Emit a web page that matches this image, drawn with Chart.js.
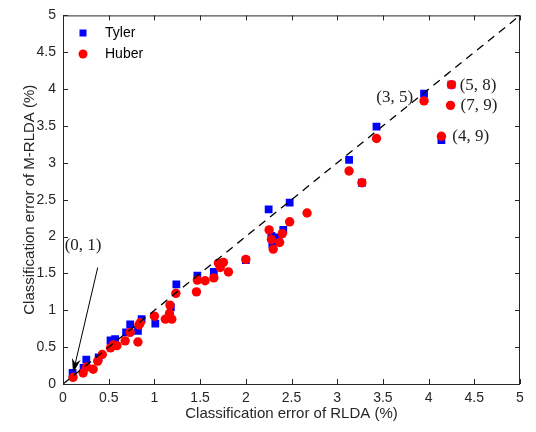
<!DOCTYPE html>
<html>
<head>
<meta charset="utf-8">
<script src="https://cdn.jsdelivr.net/npm/chart.js@4"></script>
<style>
  html, body { margin: 0; padding: 0; background: #fff; }
  #wrap { width: 536px; height: 432px; }
</style>
</head>
<body>
<div id="wrap"><canvas id="myChart" width="536" height="432"></canvas></div>
<script>
// data (classification error, %)
const tylerX = [0.105, 0.225, 0.255, 0.39, 0.52, 0.57, 0.69, 0.735, 0.82, 0.86, 1.01, 1.18, 1.24, 1.47, 1.65, 2.0, 2.25, 2.28, 2.29, 2.36, 2.41, 2.48, 3.13, 3.27, 3.43, 3.95, 4.14, 4.25];
const tylerY = [0.15, 0.22, 0.33, 0.36, 0.59, 0.61, 0.70, 0.81, 0.72, 0.88, 0.82, 1.04, 1.35, 1.47, 1.52, 1.68, 2.37, 2.01, 1.90, 1.99, 2.09, 2.46, 3.04, 2.73, 3.49, 3.94, 3.31, 4.06];

const huberX = [0.11, 0.22, 0.26, 0.33, 0.38, 0.43, 0.52, 0.55, 0.59, 0.68, 0.735, 0.82, 0.83, 0.845, 1.0, 1.12, 1.165, 1.17, 1.19, 1.235, 1.46, 1.47, 1.555, 1.65, 1.70, 1.72, 1.755, 1.81, 2.0, 2.255, 2.28, 2.30, 2.37, 2.40, 2.48, 2.67, 3.13, 3.27, 3.43, 3.95, 4.14, 4.24, 4.25];
const huberY = [0.09, 0.15, 0.23, 0.20, 0.31, 0.40, 0.49, 0.53, 0.52, 0.585, 0.70, 0.57, 0.80, 0.83, 0.92, 0.88, 0.955, 1.07, 0.88, 1.23, 1.25, 1.41, 1.40, 1.44, 1.64, 1.58, 1.65, 1.52, 1.69, 2.09, 1.96, 1.83, 1.92, 2.04, 2.20, 2.32, 2.89, 2.73, 3.33, 3.84, 3.36, 3.78, 4.06];

const tickVals = [0, 0.5, 1, 1.5, 2, 2.5, 3, 3.5, 4, 4.5, 5];

// text labels on the plot, in data units
const noteText = ['(3, 5)', '(5, 8)', '(7, 9)', '(4, 9)', '(0, 1)'];
const noteX = [3.63, 4.34, 4.35, 4.26, 0.22];
const noteY = [3.89, 4.05, 3.78, 3.36, 1.88];
const noteAlign = ['center', 'left', 'left', 'left', 'center'];
// arrow from the (0,1) label down to the point
const arrowFrom = [0.38, 1.58];
const arrowTo = [0.11, 0.15];

const ink = '#262626';

function toPts(xs, ys) {
    return xs.map((x, i) => ({ x: x, y: ys[i] }));
}

// box, inward ticks, legend, notes
const extras = {
    id: 'extras',
    afterDraw(chart) {
        const ctx = chart.ctx;
        const a = chart.chartArea;
        const sx = chart.scales.x, sy = chart.scales.y;
        ctx.save();
        ctx.strokeStyle = ink;
        ctx.lineWidth = 1;
        ctx.strokeRect(a.left + 0.5, a.top + 0.5, a.right - a.left - 1, a.bottom - a.top);

        ctx.beginPath();
        tickVals.forEach(v => {
            const px = Math.round(sx.getPixelForValue(v)) + 0.5;
            ctx.moveTo(px, a.bottom); ctx.lineTo(px, a.bottom - 5);
            ctx.moveTo(px, a.top); ctx.lineTo(px, a.top + 5);
            const py = Math.round(sy.getPixelForValue(v)) + 0.5;
            ctx.moveTo(a.left, py); ctx.lineTo(a.left + 5, py);
            ctx.moveTo(a.right, py); ctx.lineTo(a.right - 5, py);
        });
        ctx.stroke();

        // legend
        ctx.font = '14px "Liberation Sans", Arial, sans-serif';
        ctx.textBaseline = 'middle';
        ctx.textAlign = 'left';
        ctx.fillStyle = 'rgb(0,0,255)';
        ctx.fillRect(a.left + 20 - 3.5, 33 - 3.5, 7, 7);
        ctx.fillStyle = 'rgb(255,0,0)';
        ctx.beginPath();
        ctx.arc(a.left + 20, 54, 4.5, 0, Math.PI * 2);
        ctx.fill();
        ctx.fillStyle = '#000';
        ctx.fillText('Tyler', a.left + 42, 33);
        ctx.fillText('Huber', a.left + 42, 54);

        // notes
        ctx.font = '17px "Liberation Serif", "DejaVu Serif", serif';
        ctx.fillStyle = '#222';
        noteText.forEach((t, i) => {
            ctx.textAlign = noteAlign[i];
            ctx.fillText(t, sx.getPixelForValue(noteX[i]), sy.getPixelForValue(noteY[i]));
        });

        // arrow
        const x1 = sx.getPixelForValue(arrowFrom[0]), y1 = sy.getPixelForValue(arrowFrom[1]);
        const x2 = sx.getPixelForValue(arrowTo[0]), y2 = sy.getPixelForValue(arrowTo[1]);
        const ang = Math.atan2(y2 - y1, x2 - x1);
        ctx.strokeStyle = '#000';
        ctx.lineWidth = 1;
        ctx.beginPath();
        ctx.moveTo(x1, y1); ctx.lineTo(x2 - 6 * Math.cos(ang), y2 - 6 * Math.sin(ang));
        ctx.stroke();
        ctx.fillStyle = '#000';
        ctx.beginPath();
        ctx.moveTo(x2, y2);
        ctx.lineTo(x2 - 15 * Math.cos(ang - 0.3), y2 - 15 * Math.sin(ang - 0.3));
        ctx.lineTo(x2 - 10 * Math.cos(ang), y2 - 10 * Math.sin(ang));
        ctx.lineTo(x2 - 15 * Math.cos(ang + 0.3), y2 - 15 * Math.sin(ang + 0.3));
        ctx.closePath();
        ctx.fill();
        ctx.restore();
    }
};

const tickFont = { family: '"Liberation Sans", Arial, sans-serif', size: 14 };
const titleFont = { family: '"Liberation Sans", Arial, sans-serif', size: 15 };

const ctx = document.getElementById('myChart').getContext('2d');
const myChart = new Chart(ctx, {
    data: {
        datasets: [
            {
                type: 'scatter',
                label: 'Tyler',
                data: toPts(tylerX, tylerY),
                pointStyle: 'rect',
                pointRadius: 5.5,
                backgroundColor: 'rgb(0,0,255)',
                borderWidth: 0,
                order: 2
            },
            {
                type: 'scatter',
                label: 'Huber',
                data: toPts(huberX, huberY),
                pointStyle: 'circle',
                pointRadius: 4.7,
                backgroundColor: 'rgb(255,0,0)',
                borderWidth: 0,
                order: 1
            },
            {
                type: 'line',
                label: 'y=x',
                data: [{ x: 0, y: 0 }, { x: 5, y: 5 }],
                borderColor: '#000',
                borderWidth: 1.3,
                borderDash: [8, 6],
                pointRadius: 0,
                fill: false,
                order: 0
            }
        ]
    },
    options: {
        responsive: false,
        animation: false,
        layout: { padding: { top: 14, right: 16, left: 0, bottom: 0 } },
        plugins: {
            legend: { display: false },
            tooltip: { enabled: false }
        },
        scales: {
            x: {
                type: 'linear',
                min: 0, max: 5,
                afterBuildTicks: s => { s.ticks = tickVals.map(v => ({ value: v })); },
                afterFit: s => { s.height = 48; },
                grid: { display: false, drawTicks: false },
                border: { display: false },
                ticks: { color: ink, font: tickFont, padding: 6, maxRotation: 0, autoSkip: false, callback: v => String(v) },
                title: { display: true, text: 'Classification error of RLDA (%)', color: ink, font: titleFont, padding: { top: 3, bottom: 9 } }
            },
            y: {
                type: 'linear',
                min: 0, max: 5,
                afterBuildTicks: s => { s.ticks = tickVals.map(v => ({ value: v })); },
                afterFit: s => { s.width = 63; },
                grid: { display: false, drawTicks: false },
                border: { display: false },
                ticks: { color: ink, font: tickFont, padding: 7, autoSkip: false, callback: v => String(v) },
                title: { display: true, text: 'Classification error of M-RLDA (%)', color: ink, font: titleFont, padding: { top: 21, bottom: 6 } }
            }
        }
    },
    plugins: [extras]
});
</script>
</body>
</html>
